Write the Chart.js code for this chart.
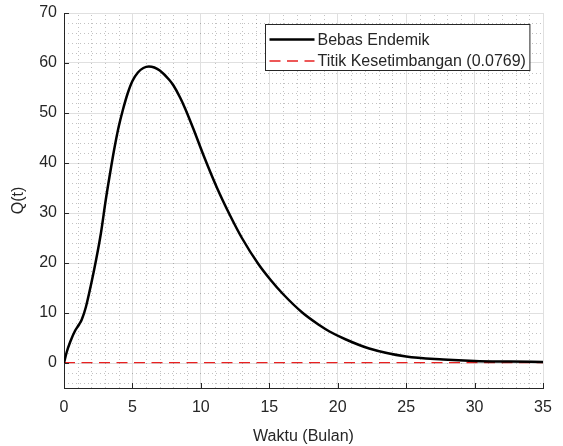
<!DOCTYPE html>
<html>
<head>
<meta charset="utf-8">
<script src="https://cdn.jsdelivr.net/npm/chart.js@4.4.1/dist/chart.umd.min.js"></script>
<style>
  html, body { margin: 0; padding: 0; background: #fff; }
</style>
</head>
<body>
<canvas id="chart" width="563" height="446"></canvas>
<script>
// Data
const timeMonths = [0, 0.2, 0.45, 0.8, 1.1, 1.3, 1.6, 2.0, 2.35, 2.7, 3.05, 3.45, 3.7, 4.0, 4.3, 4.65, 5.0, 5.4, 5.8, 6.2, 6.6, 7.0, 7.7, 8.0, 8.5, 8.85, 9.5, 10.2, 11.2, 12.1, 13.0, 14.2, 15.1, 16.0, 17.45, 18.7, 19.4, 20.6, 22.3, 25, 27.7, 30, 32.5, 35];
const qValues = [0, 2.2, 4.2, 6.4, 7.7, 8.7, 11.2, 16, 20.7, 26, 32.6, 39.3, 43.2, 47.3, 50.6, 53.9, 56.4, 58.1, 59.0, 59.3, 59.1, 58.5, 56.6, 55.5, 53.0, 50.9, 46.5, 41.5, 34.9, 29.7, 25.0, 19.8, 16.6, 13.8, 10.0, 7.5, 6.3, 4.7, 2.9, 1.3, 0.7, 0.4, 0.28, 0.2];
const equilibrium = 0.0769;
const equilibriumSpan = [0, 35];

const xTicks = [0, 5, 10, 15, 20, 25, 30, 35];
const yTicks = [0, 10, 20, 30, 40, 50, 60, 70];

const seriesLabels = ['Bebas Endemik', 'Titik Kesetimbangan (0.0769)'];

const FONT = 'Liberation Sans, Arial, Helvetica, sans-serif';
const INK = '#262626';

// minor grid (dotted) + inward tick marks, like the matlab axes
const axesDecor = {
    id: 'axesDecor',
    beforeDatasetsDraw(chart) {
        const ctx = chart.ctx;
        const x = chart.scales.x, y = chart.scales.y;
        const area = chart.chartArea;
        ctx.save();
        ctx.strokeStyle = 'rgba(0,0,0,0.24)';
        ctx.lineWidth = 1;
        ctx.setLineDash([1, 3]);
        for (let v = x.min + 1; v < x.max; v++) {
            if (v % 5 === 0) continue;
            const px = Math.round(x.getPixelForValue(v)) + 0.5;
            ctx.beginPath();
            ctx.moveTo(px, area.bottom);
            ctx.lineTo(px, area.top);
            ctx.stroke();
        }
        for (let v = -4; v < y.max; v += 2) {
            if (v % 10 === 0) continue;
            const py = Math.round(y.getPixelForValue(v)) + 0.5;
            ctx.beginPath();
            ctx.moveTo(area.left, py);
            ctx.lineTo(area.right, py);
            ctx.stroke();
        }
        ctx.restore();
    },
    afterDraw(chart) {
        const ctx = chart.ctx;
        const x = chart.scales.x, y = chart.scales.y;
        const area = chart.chartArea;
        ctx.save();
        ctx.strokeStyle = INK;
        ctx.lineWidth = 1;
        xTicks.forEach(v => {
            const px = Math.round(x.getPixelForValue(v)) + 0.5;
            ctx.beginPath();
            ctx.moveTo(px, area.bottom);
            ctx.lineTo(px, area.bottom - 5);
            ctx.stroke();
        });
        yTicks.forEach(v => {
            const py = Math.round(y.getPixelForValue(v)) + 0.5;
            ctx.beginPath();
            ctx.moveTo(area.left, py);
            ctx.lineTo(area.left + 5, py);
            ctx.stroke();
        });
        ctx.restore();
    }
};

// boxed legend in the top right corner
const boxLegend = {
    id: 'boxLegend',
    afterDraw(chart) {
        const ctx = chart.ctx;
        const area = chart.chartArea;
        ctx.save();
        ctx.font = '16px ' + FONT;
        const lineLen = 45;
        const textW = Math.max(...seriesLabels.map(t => ctx.measureText(t).width));
        const w = 4 + lineLen + 3 + textW + 4;
        const h = 46;
        const left = Math.round(area.right - 14 - w) + 0.5;
        const top = Math.round(area.top + 11) + 0.5;
        ctx.fillStyle = '#fff';
        ctx.fillRect(left, top, w, h);
        ctx.strokeStyle = INK;
        ctx.lineWidth = 1;
        ctx.strokeRect(left, top, w, h);

        chart.data.datasets.forEach((ds, i) => {
            const cy = top + 15 + i * 21.5;
            ctx.beginPath();
            ctx.strokeStyle = ds.borderColor;
            ctx.lineWidth = ds.borderWidth;
            ctx.setLineDash(ds.borderDash || []);
            ctx.moveTo(left + 4, cy);
            ctx.lineTo(left + 4 + lineLen, cy);
            ctx.stroke();
            ctx.setLineDash([]);
            ctx.fillStyle = INK;
            ctx.textBaseline = 'middle';
            ctx.textAlign = 'left';
            ctx.fillText(seriesLabels[i], left + 4 + lineLen + 3, cy + 1);
        });
        ctx.restore();
    }
};

new Chart(document.getElementById('chart'), {
    type: 'line',
    data: {
        datasets: [
            {
                label: seriesLabels[0],
                data: timeMonths.map((t, i) => ({ x: t, y: qValues[i] })),
                borderColor: '#000000',
                borderWidth: 2.5,
                pointRadius: 0,
                cubicInterpolationMode: 'monotone',
                fill: false
            },
            {
                label: seriesLabels[1],
                data: equilibriumSpan.map(t => ({ x: t, y: equilibrium })),
                borderColor: '#e82020',
                borderWidth: 1.3,
                borderDash: [11, 6.5],
                pointRadius: 0,
                fill: false
            }
        ]
    },
    options: {
        responsive: false,
        animation: false,
        devicePixelRatio: 1,
        layout: { padding: { top: 13, right: 20, bottom: 0, left: 0 } },
        plugins: {
            legend: { display: false },
            tooltip: { enabled: false }
        },
        scales: {
            x: {
                type: 'linear',
                min: 0,
                max: 35,
                afterBuildTicks: s => { s.ticks = xTicks.map(v => ({ value: v })); },
                afterFit: s => {
                    s.height = 58;
                    s.paddingLeft = 0;
                    s.paddingRight = 0;
                },
                grid: { color: '#e0e0e0', drawTicks: false },
                border: { color: INK, width: 1 },
                ticks: { color: INK, font: { family: FONT, size: 16 }, padding: 10, maxRotation: 0 },
                title: {
                    display: true,
                    text: 'Waktu (Bulan)',
                    color: INK,
                    font: { family: FONT, size: 16 },
                    padding: { top: 0, bottom: 0 }
                }
            },
            y: {
                type: 'linear',
                min: -5,
                max: 70,
                afterBuildTicks: s => { s.ticks = yTicks.map(v => ({ value: v })); },
                afterFit: s => {
                    s.width = 64;
                    s.paddingTop = 0;
                    s.paddingBottom = 0;
                },
                grid: { color: '#e0e0e0', drawTicks: false },
                border: { color: INK, width: 1 },
                ticks: { color: INK, font: { family: FONT, size: 16 }, padding: 7 },
                title: {
                    display: true,
                    text: 'Q(t)',
                    color: INK,
                    font: { family: FONT, size: 16 },
                    padding: { top: 9, bottom: 9 }
                }
            }
        }
    },
    plugins: [axesDecor, boxLegend]
});
</script>
</body>
</html>
